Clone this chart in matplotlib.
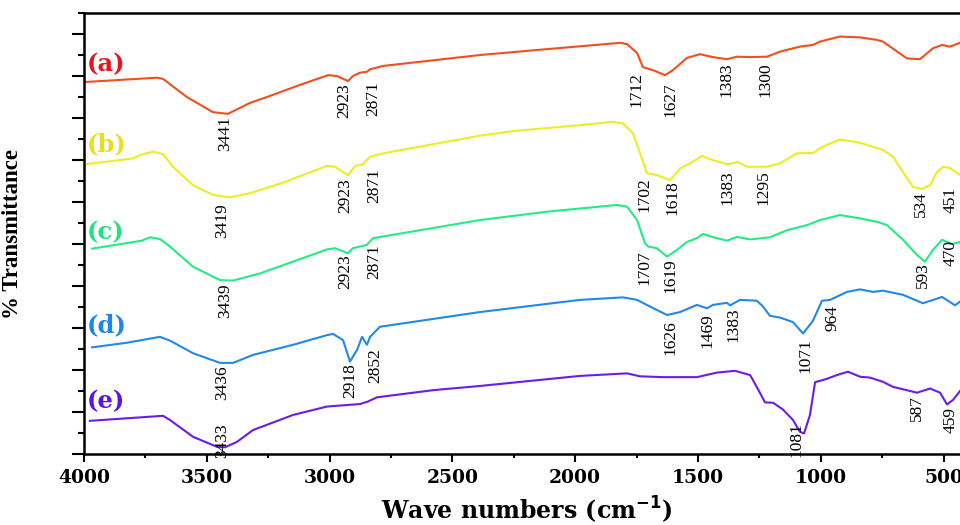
import matplotlib
matplotlib.use('Agg')
import matplotlib.pyplot as plt
from matplotlib.ticker import MultipleLocator

# FTIR spectra (transmittance in arbitrary, offset units)
wn_a = [4000, 3988, 3703, 3678, 3581, 3475, 3414, 3324, 3255, 3120,
        3006, 2970, 2925, 2905, 2876, 2848, 2835, 2782, 2388, 2115,
        1817, 1789, 1748, 1724, 1683, 1634, 1602, 1545, 1492, 1439,
        1382, 1341, 1288, 1219, 1166, 1085, 1032, 1003, 922, 840,
        771, 747, 649, 596, 543, 506, 474, 433]
t_a = [88.6, 88.6, 89.6, 89.3, 85.0, 81.4, 81.0, 83.6, 85.0, 87.9,
       90.2, 90.0, 88.8, 90.0, 90.8, 91.0, 91.6, 92.4, 95.0, 96.4,
       97.9, 97.6, 95.5, 92.1, 91.4, 90.2, 91.4, 94.3, 95.2, 94.5,
       94.0, 94.6, 94.5, 94.6, 95.8, 97.0, 97.4, 98.2, 99.4, 99.2,
       98.6, 98.2, 94.2, 94.0, 96.6, 97.4, 97.0, 97.9]

wn_b = [3992, 3800, 3772, 3719, 3678, 3638, 3556, 3475, 3406, 3324,
        3190, 3011, 2978, 2925, 2896, 2864, 2835, 2782, 2388, 2253,
        1980, 1846, 1805, 1765, 1736, 1708, 1667, 1614, 1573, 1520,
        1484, 1451, 1382, 1337, 1300, 1219, 1166, 1097, 1032, 991,
        922, 840, 747, 706, 665, 624, 588, 555, 527, 502,
        474, 433]
t_b = [69.0, 70.4, 71.2, 72.0, 71.4, 68.4, 64.0, 61.7, 61.1, 62.1,
       64.6, 68.6, 68.4, 66.4, 68.6, 69.0, 70.8, 71.6, 75.8, 76.9,
       78.3, 79.1, 78.7, 76.4, 71.7, 66.9, 66.4, 65.2, 68.0, 69.6,
       71.0, 70.2, 69.0, 69.5, 68.4, 68.4, 69.2, 71.6, 71.7, 73.2,
       74.9, 74.1, 72.4, 70.8, 67.1, 63.6, 63.1, 64.0, 67.1, 68.4,
       68.1, 66.4]

wn_c = [3967, 3764, 3731, 3691, 3650, 3556, 3446, 3393, 3283, 3149,
        3011, 2978, 2925, 2905, 2848, 2823, 2388, 2115, 1830, 1789,
        1748, 1716, 1703, 1667, 1626, 1585, 1545, 1504, 1480, 1443,
        1382, 1341, 1288, 1207, 1137, 1056, 1003, 922, 840, 771,
        730, 665, 608, 576, 543, 506, 466, 433]
t_c = [48.9, 50.8, 51.6, 51.2, 49.4, 44.6, 41.4, 41.3, 43.0, 45.8,
       48.7, 49.0, 47.8, 49.0, 49.8, 51.4, 55.7, 57.7, 59.3, 58.9,
       55.7, 50.2, 49.4, 49.0, 47.0, 48.6, 50.5, 51.4, 52.4, 51.7,
       50.8, 51.7, 51.1, 51.6, 53.3, 54.5, 55.7, 56.9, 56.1, 55.3,
       54.5, 51.0, 47.4, 45.8, 48.6, 51.0, 50.0, 50.5]

wn_d = [3967, 3825, 3691, 3650, 3556, 3446, 3393, 3312, 3149, 3011,
        2986, 2945, 2917, 2888, 2868, 2848, 2835, 2795, 2388, 1980,
        1805, 1748, 1695, 1626, 1573, 1504, 1463, 1439, 1382, 1369,
        1329, 1260, 1235, 1207, 1166, 1113, 1072, 1032, 995, 962,
        893, 840, 787, 747, 665, 584, 506, 453, 433]
t_d = [25.4, 26.5, 27.9, 27.0, 24.0, 21.7, 21.7, 23.6, 26.0, 28.3,
       28.6, 27.1, 22.0, 24.8, 27.9, 26.0, 27.9, 30.3, 33.8, 36.7,
       37.3, 36.7, 35.1, 33.1, 33.8, 35.5, 34.7, 35.5, 36.0, 35.4,
       36.7, 36.5, 35.1, 32.9, 32.5, 31.4, 28.7, 31.7, 36.5, 36.7,
       38.6, 39.2, 38.6, 38.9, 37.9, 35.9, 37.4, 35.4, 36.3]

wn_e = [3976, 3678, 3650, 3556, 3458, 3426, 3377, 3312, 3149, 3011,
        2876, 2844, 2807, 2579, 2388, 1980, 1789, 1736, 1642, 1504,
        1422, 1349, 1288, 1276, 1247, 1227, 1194, 1154, 1113, 1085,
        1068, 1044, 1023, 975, 934, 889, 840, 800, 747, 706,
        608, 555, 514, 486, 461, 433]
t_e = [7.9, 9.1, 8.1, 4.1, 1.7, 1.6, 2.9, 5.7, 9.3, 11.3,
       11.9, 12.5, 13.5, 15.2, 16.2, 18.6, 19.2, 18.5, 18.3, 18.3,
       19.4, 19.8, 18.8, 17.6, 14.5, 12.3, 12.2, 10.6, 8.1, 5.3,
       4.9, 9.3, 17.1, 17.9, 18.8, 19.6, 18.4, 18.2, 17.2, 16.0,
       14.6, 15.6, 14.6, 11.8, 12.9, 15.0]

names = ['(a)', '(b)', '(c)', '(d)', '(e)']
name_y = [92.7, 73.8, 52.9, 30.7, 12.6]
line_colors = ['#F24E1E', '#EDED24', '#24EC84', '#2288EC', '#6A1CEA']
name_colors = ['#E8141C', '#E4E020', '#20E27E', '#1E86EA', '#5C14E2']

# peak labels: (text, x, y of the label top)
peaks_a = [('3441', 3426, 80.5), ('2923', 2941, 88.3), ('2871', 2823, 88.8),
           ('1712', 1752, 91.0), ('1627', 1614, 88.6), ('1383', 1382, 93.3),
           ('1300', 1227, 93.3)]
peaks_b = [('3419', 3438, 59.8), ('2923', 2937, 65.7), ('2871', 2819, 68.1),
           ('1702', 1716, 66.0), ('1618', 1602, 65.2), ('1383', 1378, 67.6),
           ('1295', 1235, 67.6), ('534', 592, 62.6), ('451', 472, 63.6)]
peaks_c = [('3439', 3426, 40.7), ('2923', 2937, 47.6), ('2871', 2819, 50.0),
           ('1707', 1716, 48.6), ('1619', 1614, 46.7), ('593', 584, 45.7),
           ('470', 472, 51.0)]
peaks_d = [('3436', 3438, 21.2), ('2918', 2917, 21.7), ('2852', 2815, 25.2),
           ('1626', 1614, 31.9), ('1469', 1463, 33.6), ('1383', 1357, 35.0),
           ('1071', 1064, 27.6), ('964', 954, 35.5)]
peaks_e = [('3433', 3438, 7.4), ('1081', 1097, 7.6), ('587', 608, 14.0),
           ('459', 470, 11.2)]

fig = plt.figure(figsize=(9.6, 5.25), dpi=100)
ax = fig.add_axes([0.0875, 0.1352, 0.9125, 0.84])

series = [(wn_a, t_a, peaks_a), (wn_b, t_b, peaks_b), (wn_c, t_c, peaks_c),
          (wn_d, t_d, peaks_d), (wn_e, t_e, peaks_e)]

for i, (wn, t, peaks) in enumerate(series):
    ax.plot(wn, t, color=line_colors[i], lw=1.5)
    ax.text(3990, name_y[i], names[i], color=name_colors[i], fontsize=17.5,
            fontweight='bold', family='DejaVu Serif', ha='left', va='center')
    for txt, x, y in peaks:
        ax.text(x, y, txt, rotation=90, ha='center', va='top',
                fontsize=12.5, family='Liberation Serif', color='black')

ax.set_xlim(4000, 433)
ax.set_ylim(0, 105)

ax.xaxis.set_major_locator(MultipleLocator(500))
ax.xaxis.set_minor_locator(MultipleLocator(250))
ax.yaxis.set_major_locator(MultipleLocator(10))
ax.yaxis.set_minor_locator(MultipleLocator(5))
ax.tick_params(axis='x', which='major', direction='out', length=6, width=1.5, pad=5)
ax.tick_params(axis='x', which='minor', direction='out', length=3, width=1.5)
ax.tick_params(axis='y', which='major', direction='out', length=9, width=1.5)
ax.tick_params(axis='y', which='minor', direction='out', length=4.5, width=1.5)
ax.set_yticklabels([])
for lab in ax.get_xticklabels():
    lab.set_family('DejaVu Serif')
    lab.set_fontweight('bold')
    lab.set_fontsize(13.5)

for s in ['left', 'bottom', 'top']:
    ax.spines[s].set_linewidth(1.8)
ax.spines['right'].set_visible(False)

ax.set_xlabel('Wave numbers (cm$^{\\mathbf{-1}}$)', family='DejaVu Serif',
              fontweight='bold', fontsize=17)
ax.xaxis.set_label_coords(0.505, -0.092)
ax.set_ylabel('% Transmittance', family='Liberation Serif',
              fontweight='bold', fontsize=16.5)
ax.yaxis.set_label_coords(-0.07, 0.5)

fig.savefig('out.png', dpi=100)
